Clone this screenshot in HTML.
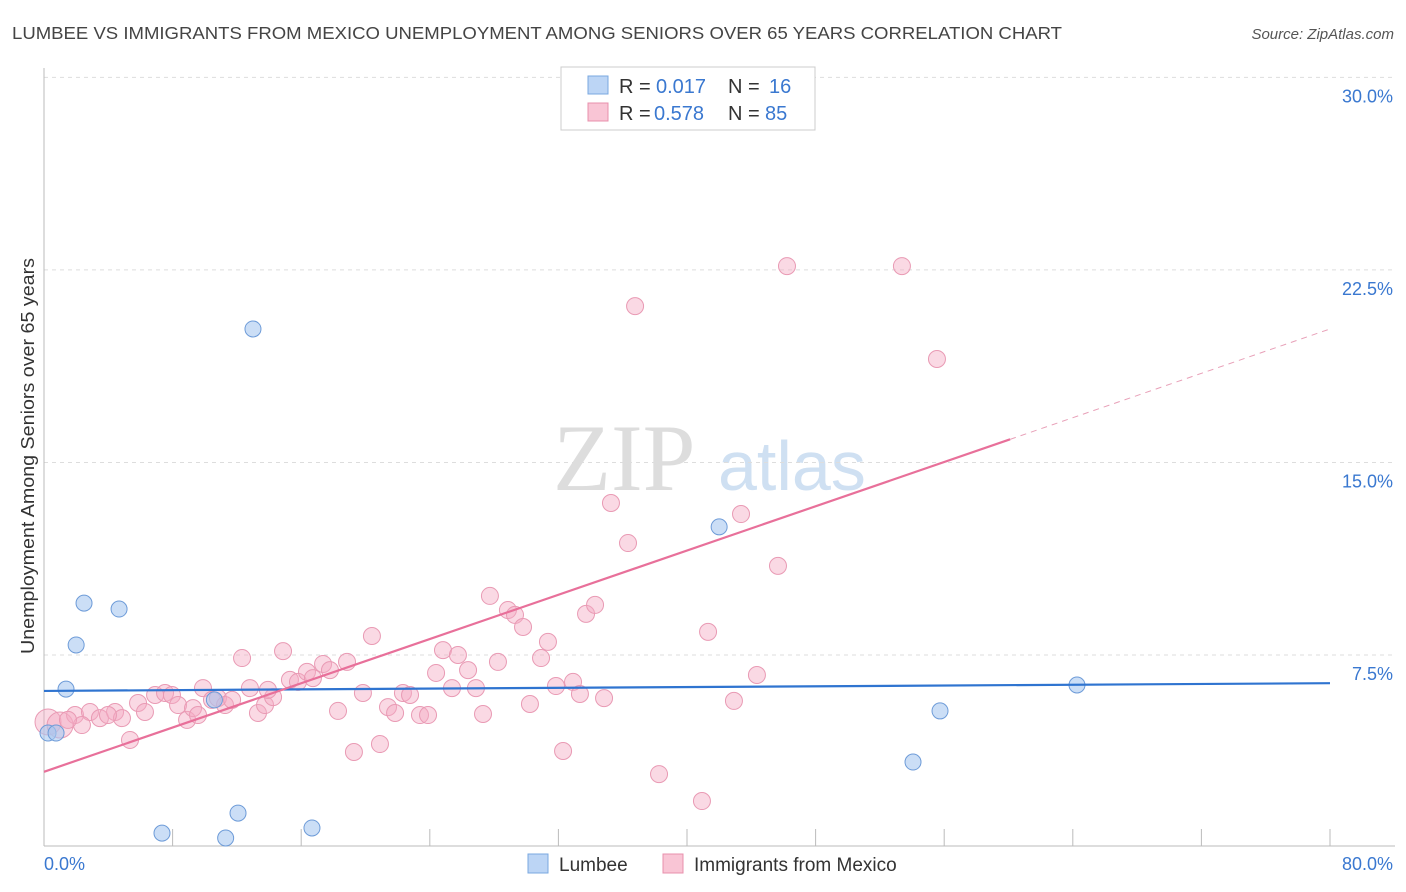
<!DOCTYPE html>
<html><head><meta charset="utf-8"><style>
body{margin:0;background:#fff;font-family:"Liberation Sans",sans-serif}
svg{display:block}
</style></head><body>
<svg id="c" width="1406" height="892" xmlns="http://www.w3.org/2000/svg">
<text x="12" y="39" font-size="17.5" fill="#444" textLength="1050" lengthAdjust="spacingAndGlyphs">LUMBEE VS IMMIGRANTS FROM MEXICO UNEMPLOYMENT AMONG SENIORS OVER 65 YEARS CORRELATION CHART</text>
<text x="1394" y="39" font-size="15" fill="#555" font-style="italic" text-anchor="end">Source: ZipAtlas.com</text>
<g><text x="553" y="490" font-size="95" fill="#ddd" font-family="Liberation Serif,serif">ZIP</text><text x="718" y="490" font-size="70" fill="#cfe0f2">atlas</text></g>
<g id="grid"></g><g id="pts"></g><g id="lines"></g>
<text transform="translate(34,456) rotate(-90)" font-size="18" fill="#333" text-anchor="middle" textLength="396" lengthAdjust="spacingAndGlyphs">Unemployment Among Seniors over 65 years</text>
<g>
<rect x="561" y="67" width="254" height="63" fill="#fff" stroke="#ccc"/>
<rect x="588" y="76" width="20" height="18" fill="#bcd5f5" stroke="#7aa8e0"/>
<rect x="588" y="103" width="20" height="18" fill="#f9c5d5" stroke="#e890ac"/>
<text y="93" font-size="20" fill="#333"><tspan x="619">R =</tspan><tspan x="656" fill="#3a78d0">0.017</tspan><tspan x="728">N =</tspan><tspan x="769" fill="#3a78d0">16</tspan></text>
<text y="120" font-size="20" fill="#333"><tspan x="619">R =</tspan><tspan x="654" fill="#3a78d0">0.578</tspan><tspan x="728">N =</tspan><tspan x="765" fill="#3a78d0">85</tspan></text>
</g>
<g>
<rect x="528" y="854" width="20" height="19" fill="#bcd5f5" stroke="#7aa8e0"/>
<text x="559" y="871" font-size="19" fill="#333">Lumbee</text>
<rect x="663" y="854" width="20" height="19" fill="#f9c5d5" stroke="#e890ac"/>
<text x="694" y="871" font-size="19" fill="#333">Immigrants from Mexico</text>
</g>
</svg>
<script>
const yTicks=[7.5,15,22.5,30];
const yTickLabels=["7.5%","15.0%","22.5%","30.0%"];
const xTickLabels=["0.0%","80.0%"];
const blueX=[0.25,0.75,1.37,2.49,2.0,4.67,13.0,10.6,7.34,11.3,12.07,16.67,42.0,64.26,55.74,54.06];
const blueY=[4.46,4.46,6.17,9.52,7.89,9.29,20.2,5.75,0.56,0.37,1.34,0.76,12.49,6.33,5.32,3.33];
const pinkPx=[[48,722],[60,725],[75,715],[90,712],[82,725],[100,718],[115,712],[122,718],[130,740],[138,703],[145,712],[155,695],[165,693],[172,695],[178,705],[187,720],[193,708],[203,688],[212,700],[218,698],[225,705],[232,700],[242,658],[250,688],[258,713],[265,705],[273,697],[283,651],[290,680],[298,682],[307,672],[313,678],[323,664],[330,670],[338,711],[347,662],[354,752],[363,693],[372,636],[380,744],[388,707],[395,713],[403,693],[410,695],[420,715],[428,715],[436,673],[443,650],[452,688],[458,655],[468,670],[476,688],[483,714],[490,596],[498,662],[508,610],[515,615],[523,627],[530,704],[541,658],[548,642],[556,686],[563,751],[573,682],[580,694],[586,614],[595,605],[604,698],[611,503],[628,543],[635,306],[659,774],[702,801],[708,632],[734,701],[741,514],[757,675],[778,566],[787,266],[902,266],[937,359],[68,720],[108,715],[198,715],[268,690]];
const pinkX=pinkPx.map(p=>+((p[0]-44)/16.075).toFixed(2));
const pinkY=pinkPx.map(p=>+((847.5-p[1])/25.67).toFixed(2));
const blueLine=[[0,6.1],[80,6.4]];
const pinkLine=[[0,2.95],[60.1,15.9],[80,20.2]];
const X=v=>44+v*16.075, Y=v=>847.5-v*25.67;
const NS="http://www.w3.org/2000/svg";
function mk(t,a,p){const e=document.createElementNS(NS,t);for(const k in a)e.setAttribute(k,a[k]);p.appendChild(e);return e;}
const g=document.getElementById('grid');
yTicks.forEach((t,i)=>{
 const l=mk('line',{x1:44,x2:1395,y1:Y(t),y2:Y(t),stroke:'#ddd','stroke-dasharray':'4,4'},g);
 
 
 const tx=mk('text',{x:1393,y:Y(t)+25,'font-size':18,fill:'#3a78d0','text-anchor':'end'},g);tx.textContent=yTickLabels[i];
 
 
});
mk('line',{x1:44,x2:44,y1:68,y2:846,stroke:'#bbb'},g);
mk('line',{x1:44,x2:1395,y1:846,y2:846,stroke:'#bbb'},g);
for(let i=0;i<=10;i++){const l=mk('line',{x1:X(i*8),x2:X(i*8),y1:829,y2:846,stroke:'#bbb'},g);
 
 }
[[0,44,'start'],[80,1393,'end']].forEach((d,i)=>{const t=mk('text',{x:d[1],y:870,'font-size':18,fill:'#3a78d0','text-anchor':d[2]},g);t.textContent=xTickLabels[i];
 
 });
const pg=document.getElementById('pts');
pinkX.forEach((x,i)=>{const c=mk('circle',{cx:X(x),cy:Y(pinkY[i]),r:i<2?13:8.5,fill:'rgba(244,170,195,0.45)',stroke:'#e99ab4','stroke-width':1},pg);
 
 });
blueX.forEach((x,i)=>{const c=mk('circle',{cx:X(x),cy:Y(blueY[i]),r:8,fill:'rgba(168,200,240,0.6)',stroke:'#6d9bd8','stroke-width':1},pg);
 
 });
const lg=document.getElementById('lines');
let b=mk('line',{x1:X(blueLine[0][0]),y1:Y(blueLine[0][1]),x2:X(blueLine[1][0]),y2:Y(blueLine[1][1]),stroke:'#2f74d0','stroke-width':2.2},lg);


let p=mk('line',{x1:X(pinkLine[0][0]),y1:Y(pinkLine[0][1]),x2:X(pinkLine[1][0]),y2:Y(pinkLine[1][1]),stroke:'#e8709a','stroke-width':2.2},lg);


let pd=mk('line',{x1:X(pinkLine[1][0]),y1:Y(pinkLine[1][1]),x2:X(pinkLine[2][0]),y2:Y(pinkLine[2][1]),stroke:'#e8a0b8','stroke-width':1,'stroke-dasharray':'6,5'},lg);


</script>
</body></html>
